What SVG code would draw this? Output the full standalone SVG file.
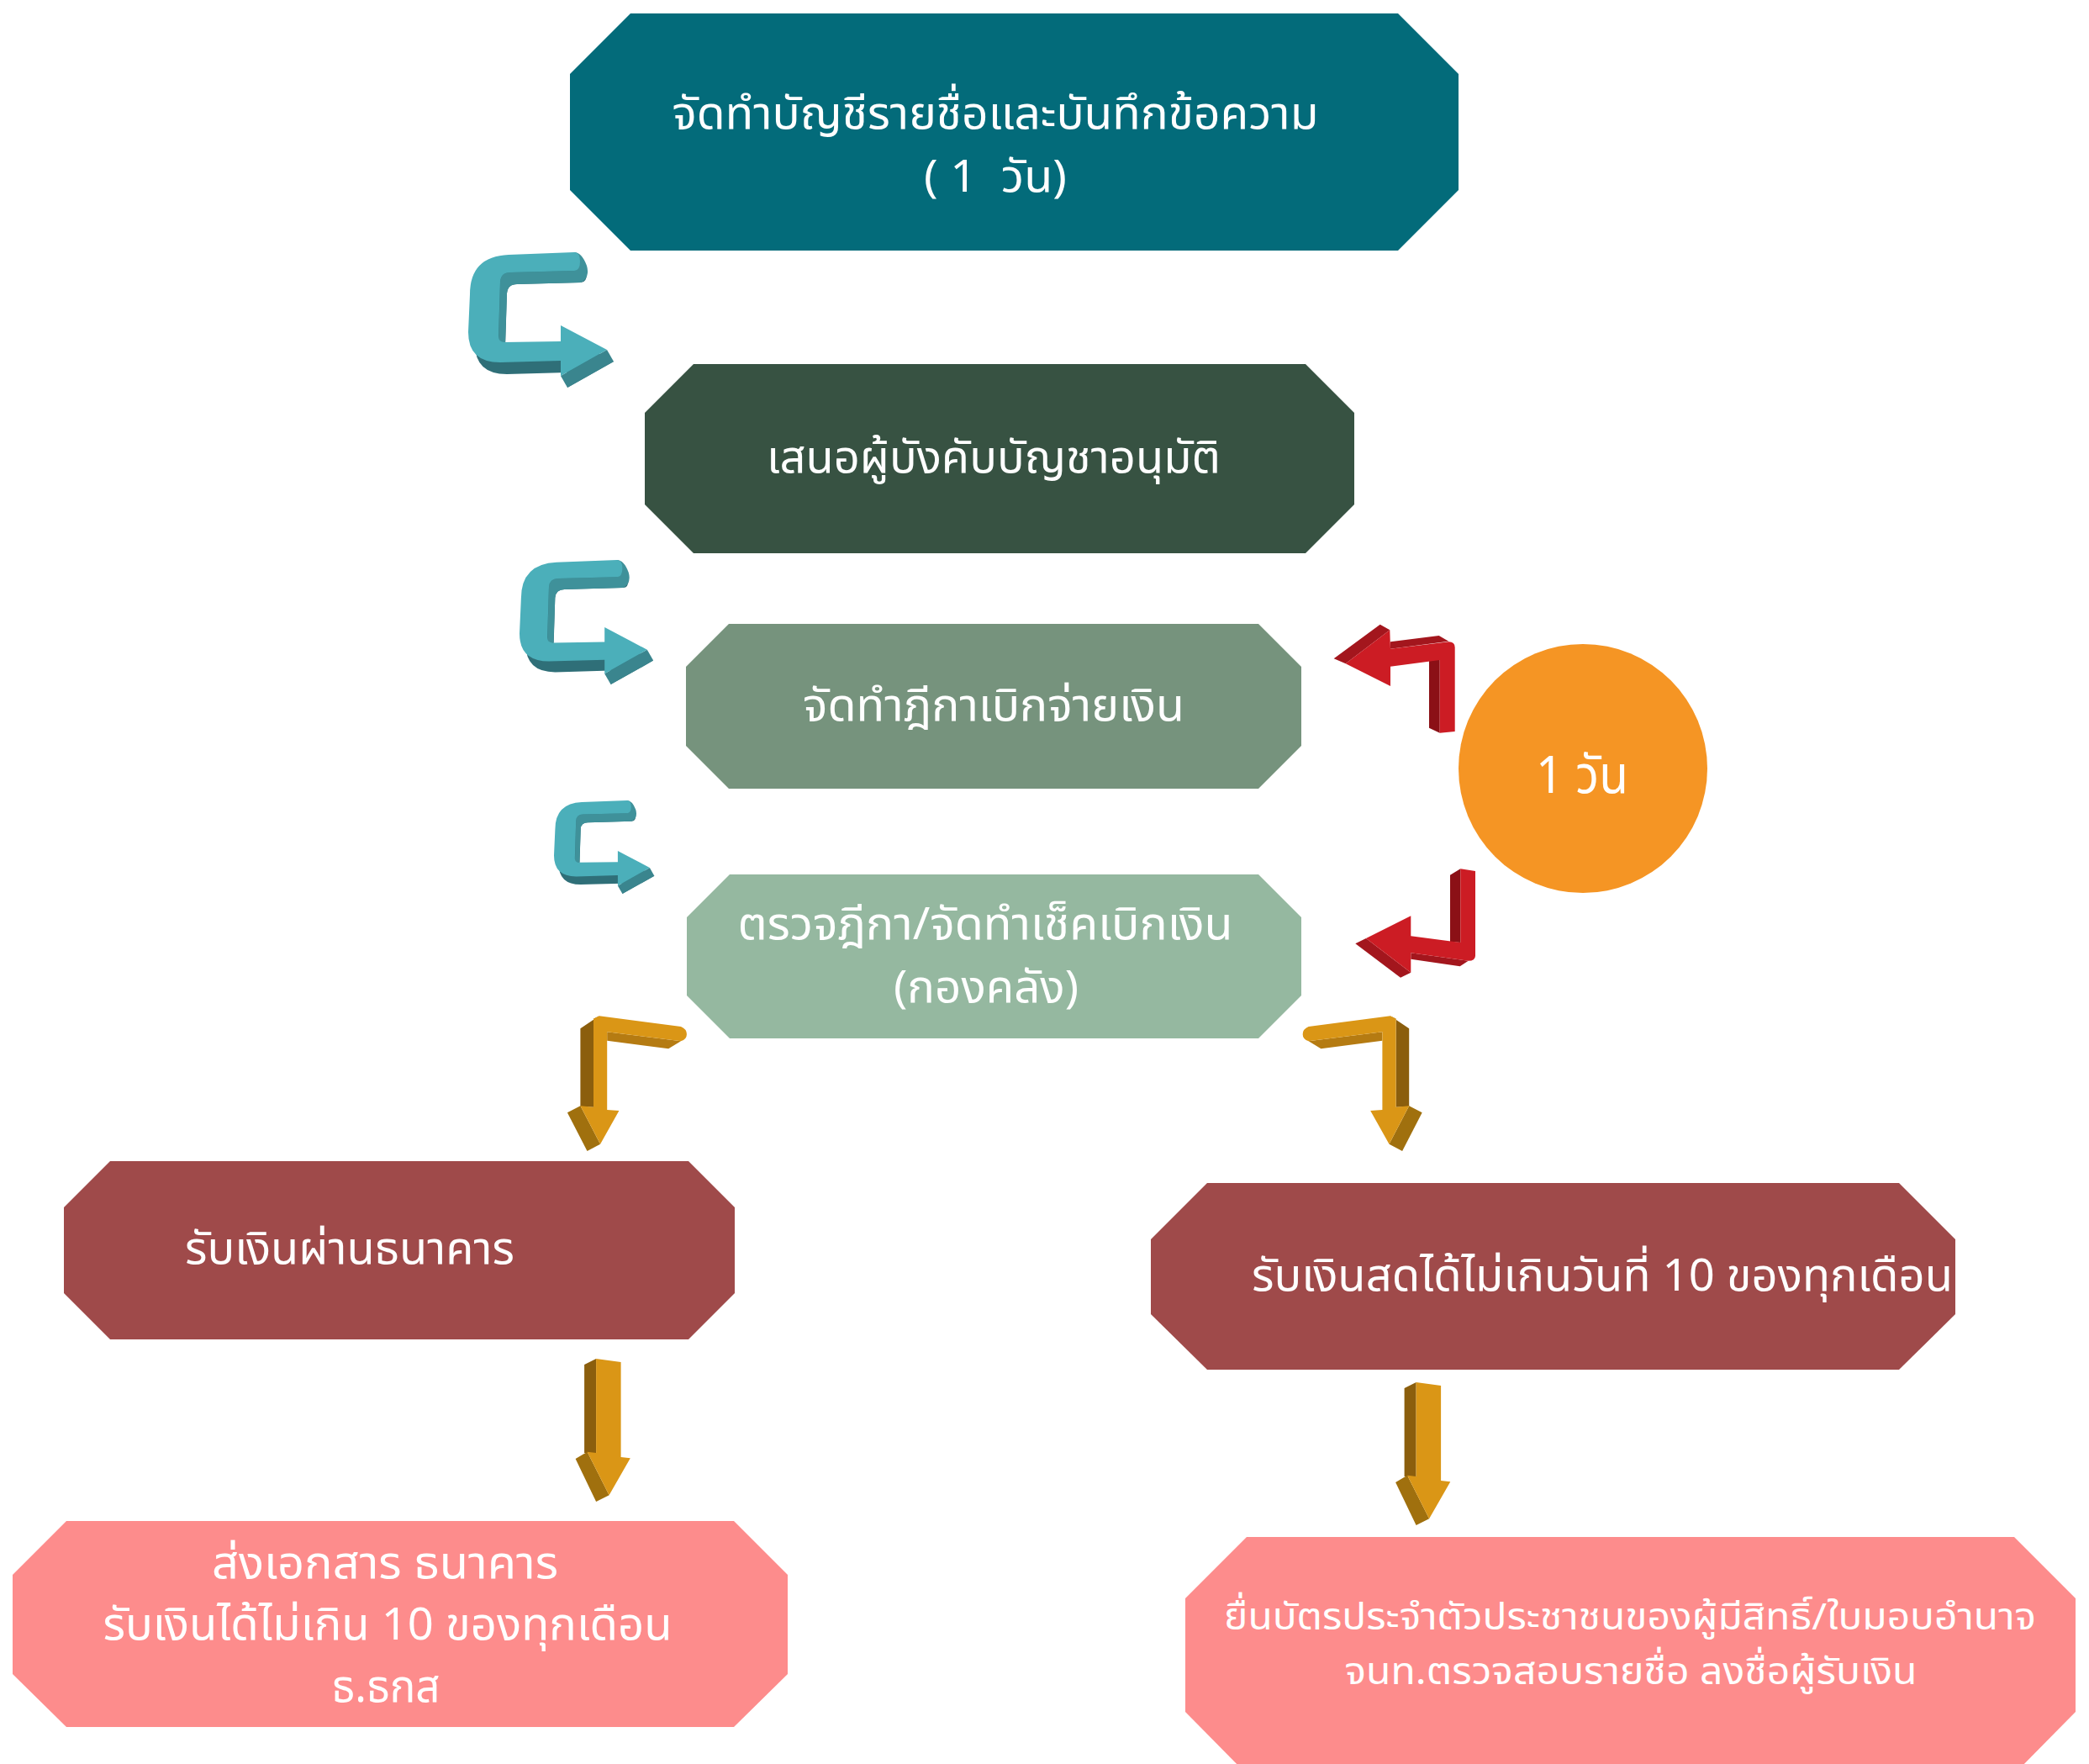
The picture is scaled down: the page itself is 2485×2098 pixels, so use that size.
<svg xmlns="http://www.w3.org/2000/svg" xmlns:xlink="http://www.w3.org/1999/xlink" width="2485" height="2098" viewBox="0 0 2485 2098">
<style>
.t{font-family:"Noto Sans Thai","Noto Sans","DejaVu Sans",sans-serif;fill:#FFFFFF;text-anchor:middle;font-size:53px}
.ts{font-size:44px}
.tc{font-size:62px}
.tf{fill:#4BAFBA}.ti{fill:#3F919A}.tb{fill:#2F6F78}.th{fill:#3A858E}
.rf{fill:#CC1C24}.rd{fill:#8B1016}.rs{fill:#A3161D}
.gf{fill:#DA9616}.gd{fill:#8B5E0D}.gh{fill:#A0700E}.gu{fill:#B57B12}
</style>
<defs>
<g id="teal">
<path class="tb" transform="translate(8,14)" d="M126,0 L48,3 Q2,5 2,50 L0,95 Q0,131 38,131 L110,129 L110,147 L165,116 L110,87 L110,106 L43,107 Q36,107 36,100 L38,35 Q39,24 50,24 L126,22 Q133,22 133,11 Q133,0 126,0 Z"/>
<path class="ti" d="M126,0 Q135,0 141,16 Q145,30 134,36 L58,38 Q47,38 46,49 L44,107 L36,107 L38,35 Q39,24 50,24 L126,22 Z"/>
<polygon class="th" points="165,116 173,130 118,161 110,147"/>
<path class="tf" d="M126,0 L48,3 Q2,5 2,50 L0,95 Q0,131 38,131 L110,129 L110,147 L165,116 L110,87 L110,106 L43,107 Q36,107 36,100 L38,35 Q39,24 50,24 L126,22 Q133,22 133,11 Q133,0 126,0 Z"/>
</g>
<g id="goldL">
<polygon class="gd" points="690.4,1223.3 712.7,1208.3 706,1211.7 706,1316.7 690.4,1316"/>
<polygon class="gh" points="674.9,1323.3 690.4,1315.3 714.1,1360.7 698.5,1369"/>
<polygon class="gu" points="722.2,1227.3 810,1238.3 795.2,1247.3 722.2,1237.7"/>
<path class="gf" d="M712.7,1208.3 L810,1221 Q817,1224 816.9,1230 Q817,1236 810,1238.3 L722.2,1227.3 L722.2,1320 L736.4,1321 L714.1,1360.7 L690.4,1315.3 L706,1316.7 L706,1211.7 Z"/>
</g>
<g id="goldD">
<polygon class="gd" points="695.1,1623 709.1,1616 709.1,1728 695.1,1728"/>
<polygon class="gh" points="684.6,1735 698.6,1726.7 724.6,1778.3 709.1,1786"/>
<polygon class="gf" points="709.1,1616 738.6,1620 738.6,1733 749.8,1734.3 724.6,1778.3 698.6,1726.7 709.1,1728"/>
</g>
</defs>

<g id="connectors">
<use xlink:href="#teal" transform="translate(557,300)"/>
<use xlink:href="#teal" transform="translate(618,666) scale(0.92)"/>
<use xlink:href="#teal" transform="translate(659,952) scale(0.69)"/>
<g id="red-top">
<polygon class="rs" points="1586.7,783.3 1641.7,742.7 1653.3,749.3 1600.7,789.3"/>
<polygon class="rs" points="1654,763.3 1711.7,756 1723.3,762.7 1654,771.7"/>
<polygon class="rd" points="1700,785 1712.7,785 1712.7,871.7 1700,865.7"/>
<path class="rf" d="M1600.7,789.3 L1653.3,749.3 L1654,771.7 L1723.3,763.3 Q1730.7,763.5 1730.7,770 L1730.7,870 L1712.7,871.7 L1712.7,785 L1654,792.7 L1654,816 Z"/>
</g>
<g id="red-bottom">
<polygon class="rd" points="1725,1040.7 1737.3,1033.3 1737.3,1121 1725,1120"/>
<polygon class="rs" points="1612.3,1122.3 1625,1116 1678.3,1156.7 1666,1162.7"/>
<polygon class="rs" points="1678.3,1133.3 1746.7,1142.7 1736.7,1149.3 1678.3,1140.7"/>
<path class="rf" d="M1737.3,1033.3 L1755,1036 L1755,1136.7 Q1755,1142.7 1746.7,1142.7 L1678.3,1133.3 L1678.3,1156.7 L1625,1116 L1678.3,1089.3 L1678.3,1113.3 L1737.3,1121 Z"/>
</g>
<use xlink:href="#goldL"/>
<use xlink:href="#goldL" transform="matrix(-1,0,0,1,2366.6,0)"/>
<use xlink:href="#goldD"/>
<use xlink:href="#goldD" transform="translate(975.5,28)"/>
</g>

<g id="n1">
<polygon fill="#036B7A" points="750,16 1663,16 1735,88 1735,226 1663,298 750,298 678,226 678,88"/>
<text class="t" x="1184" y="153" textLength="769" lengthAdjust="spacingAndGlyphs">จัดทำบัญชีรายชื่อและบันทึกข้อความ</text>
<text class="t" x="1184" y="228" xml:space="preserve" textLength="170" lengthAdjust="spacingAndGlyphs">( 1  วัน)</text>
</g>
<g id="n2">
<polygon fill="#375242" points="825,433 1553,433 1611,491 1611,600 1553,658 825,658 767,600 767,491"/>
<text class="t" x="1182" y="562" textLength="540" lengthAdjust="spacingAndGlyphs">เสนอผู้บังคับบัญชาอนุมัติ</text>
</g>
<g id="n3">
<polygon fill="#76937D" points="867,742 1497,742 1548,793 1548,887 1497,938 867,938 816,887 816,793"/>
<text class="t" x="1182" y="857" textLength="454" lengthAdjust="spacingAndGlyphs">จัดทำฎีกาเบิกจ่ายเงิน</text>
</g>
<g id="n4">
<polygon fill="#95B8A0" points="868,1040 1497,1040 1548,1091 1548,1184 1497,1235 868,1235 817,1184 817,1091"/>
<text class="t" x="1172" y="1117" textLength="589" lengthAdjust="spacingAndGlyphs">ตรวจฎีกา/จัดทำเช็คเบิกเงิน</text>
<text class="t" x="1173" y="1192" textLength="220" lengthAdjust="spacingAndGlyphs">(กองคลัง)</text>
</g>
<g id="n5">
<polygon fill="#9F4A4A" points="131,1381 819,1381 874,1436 874,1538 819,1593 131,1593 76,1538 76,1436"/>
<text class="t" x="416" y="1503" textLength="392" lengthAdjust="spacingAndGlyphs">รับเงินผ่านธนาคาร</text>
</g>
<g id="n6">
<polygon fill="#9F4A4A" points="1436,1407 2259,1407 2326,1474 2326,1563 2259,1629 1436,1629 1369,1563 1369,1474"/>
<text class="t" x="1906" y="1535" textLength="834" lengthAdjust="spacingAndGlyphs">รับเงินสดได้ไม่เกินวันที่ 10 ของทุกเดือน</text>
</g>
<g id="n7">
<polygon fill="#FD8C8C" points="79,1809 873,1809 937,1873 937,1991 873,2054 79,2054 15,1991 15,1873"/>
<text class="t" x="458" y="1877" textLength="412" lengthAdjust="spacingAndGlyphs">ส่งเอกสาร ธนาคาร</text>
<text class="t" x="461" y="1950" textLength="677" lengthAdjust="spacingAndGlyphs">รับเงินได้ไม่เกิน 10 ของทุกเดือน</text>
<text class="t" x="459" y="2024" textLength="129" lengthAdjust="spacingAndGlyphs">ธ.ธกส</text>
</g>
<g id="n8">
<polygon fill="#FD8C8C" points="1483,1828 2396,1828 2469,1901 2469,2036 2396,2110 1483,2110 1410,2036 1410,1901"/>
<text class="t ts" x="1939" y="1938" textLength="966" lengthAdjust="spacingAndGlyphs">ยื่นบัตรประจำตัวประชาชนของผู้มีสิทธิ์/ใบมอบอำนาจ</text>
<text class="t ts" x="1940" y="2003" textLength="681" lengthAdjust="spacingAndGlyphs">จนท.ตรวจสอบรายชื่อ ลงชื่อผู้รับเงิน</text>
</g>
<g id="n9">
<circle fill="#F59524" cx="1883" cy="914" r="148"/>
<text class="t tc" x="1882" y="943" textLength="110" lengthAdjust="spacingAndGlyphs">1 วัน</text>
</g>
</svg>
